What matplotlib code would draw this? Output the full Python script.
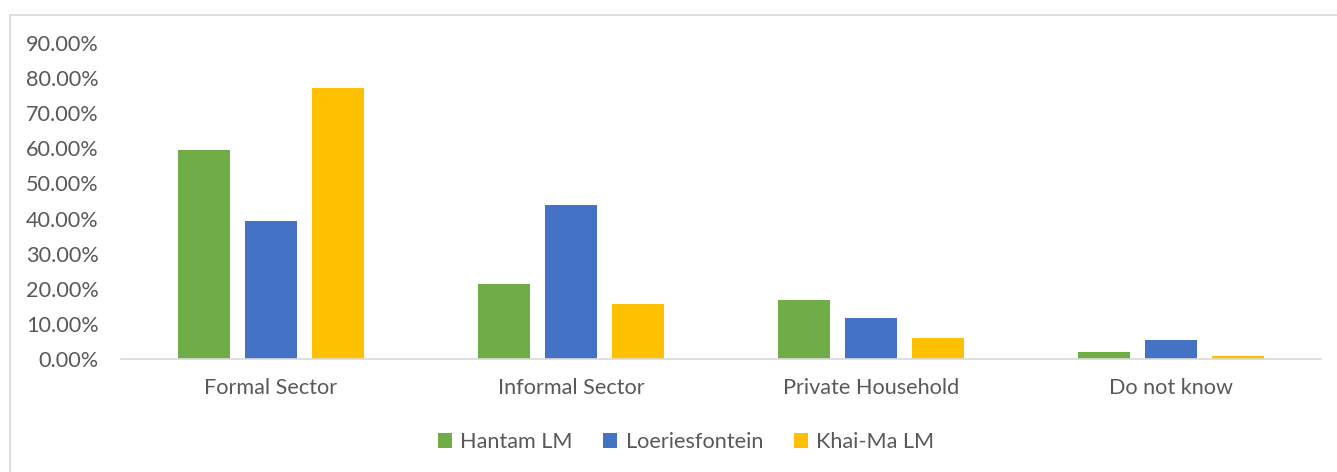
import numpy as np
import matplotlib
matplotlib.use("Agg")
from matplotlib import pyplot as plt
from matplotlib.patches import Rectangle
from matplotlib.ticker import FuncFormatter

categories = ["Formal Sector", "Informal Sector", "Private Household", "Do not know"]
hantam = [59.5, 21.5, 16.9, 1.9]
loeriesfontein = [39.4, 43.8, 11.6, 5.3]
khai_ma = [77.2, 15.7, 5.9, 0.9]
series_names = ["Hantam LM", "Loeriesfontein", "Khai-Ma LM"]
colors = ["#70AD47", "#4472C4", "#FFC000"]

plt.rcParams['font.family'] = ['Lato', 'DejaVu Sans']
text_color = "#595959"
fsize = 15.6

fig = plt.figure(figsize=(13.37, 4.72), dpi=100)
ax = fig.add_axes([121 / 1337, 1 - 359 / 472, 1200 / 1337, (359 - 43) / 472])

# chart border
fig.patches.append(Rectangle((10 / 1337, -0.05), 1.1, 1 - 15 / 472 + 0.05,
                             transform=fig.transFigure, fill=False,
                             edgecolor="#D9D9D9", linewidth=1.2))

x = np.arange(len(categories))
width = 0.173
offset = 0.222
for i, (vals, name, col) in enumerate(zip([hantam, loeriesfontein, khai_ma], series_names, colors)):
    ax.bar(x + (i - 1) * offset, vals, width, color=col, label=name)

ax.set_xlim(-0.5, len(categories) - 0.5)
ax.set_ylim(0, 90)
ax.set_yticks(np.arange(0, 91, 10))
ax.yaxis.set_major_formatter(FuncFormatter(lambda v, p: f"{v:.2f}%"))
ax.set_xticks(x)
ax.set_xticklabels(categories)

for s in ["top", "right", "left"]:
    ax.spines[s].set_visible(False)
ax.spines["bottom"].set_color("#D9D9D9")
ax.spines["bottom"].set_linewidth(1.2)
ax.tick_params(axis="both", length=0, labelsize=fsize, colors=text_color)
ax.tick_params(axis="x", pad=14)
ax.tick_params(axis="y", pad=16)

leg = fig.legend(loc="center", bbox_to_anchor=(686 / 1337, 1 - 442 / 472), ncol=3,
                 frameon=False, fontsize=fsize, handlelength=0.65, handleheight=0.65,
                 columnspacing=1.4, handletextpad=0.4)
for t in leg.get_texts():
    t.set_color(text_color)

fig.savefig("out.png", dpi=100)
